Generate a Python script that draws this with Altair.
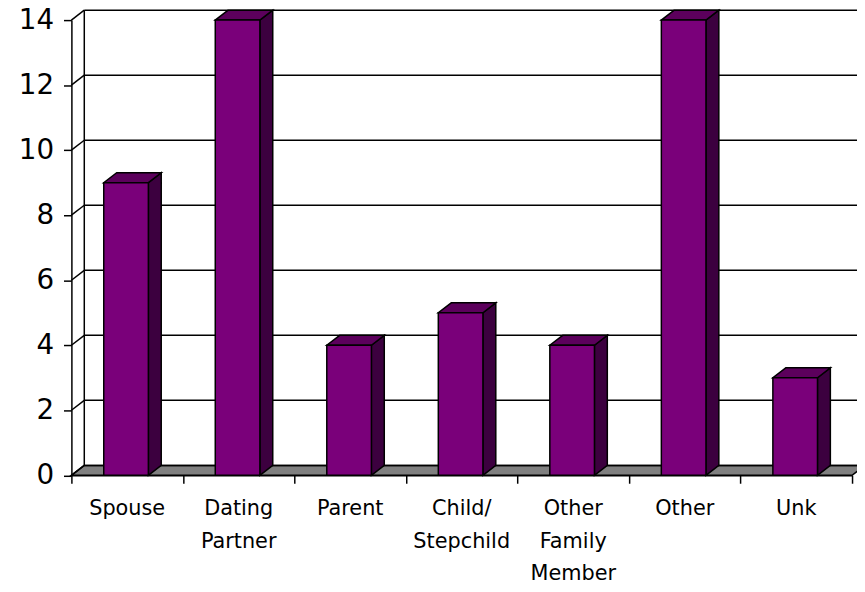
import altair as alt
import pandas as pd

categories = ["Spouse", "Dating\nPartner", "Parent", "Child/\nStepchild",
              "Other\nFamily\nMember", "Other", "Unk"]
counts = [9, 14, 4, 5, 4, 14, 3]
y_ticks = [0, 2, 4, 6, 8, 10, 12, 14]

N = len(categories)
DX = 0.1155   # depth offset (category units)
DY = 0.305    # depth offset (count units)
B0, B1 = 0.29, 0.69   # bar front face within band

xs = alt.Scale(domain=[0, N], nice=False, zero=False)
ys = alt.Scale(domain=[0, 14], nice=False, zero=False)
ax_y = alt.Axis(values=y_ticks, title=None, grid=False, tickSize=8,
                labelFontSize=28, labelFont="DejaVu Sans", labelColor="black", labelPadding=10,
                domainColor="black", tickColor="black", domainWidth=1.5, tickWidth=1.5)
ax_x = alt.Axis(values=list(range(N + 1)), labels=False, title=None,
                grid=False, tickSize=8, domainColor="black", tickColor="black",
                domainWidth=1.5, tickWidth=1.5)


def X(f):
    return alt.X(f, scale=xs, axis=ax_x)


def Y(f):
    return alt.Y(f, scale=ys, axis=ax_y)


idx = list(range(N))

# floor parallelogram
floor_df = pd.DataFrame({"y": [0, DY], "x": [0, DX], "x2": [N, N + DX]})
floor = alt.Chart(floor_df).mark_area(
    orient="horizontal", color="#808080", stroke="black", strokeWidth=1.5
).encode(y=Y("y:Q"), x=X("x:Q"), x2="x2:Q")

grid_df = pd.DataFrame({"v": y_ticks})
diag = alt.Chart(grid_df).transform_calculate(
    x0="0", x1=str(DX), y1=f"datum.v + {DY}"
).mark_rule(color="black", strokeWidth=1.5).encode(
    x=X("x0:Q"), x2="x1:Q", y=Y("v:Q"), y2="y1:Q",
)
back_grid = alt.Chart(grid_df).transform_calculate(
    x0=str(DX), x1=str(N + DX), y1=f"datum.v + {DY}"
).mark_rule(color="black", strokeWidth=1.5).encode(
    x=X("x0:Q"), x2="x1:Q", y=Y("y1:Q"),
)
wall_df = pd.DataFrame({"x": [DX], "y": [DY], "y2": [14 + DY]})
wall = alt.Chart(wall_df).mark_rule(color="black", strokeWidth=1.5).encode(
    x=X("x:Q"), y=Y("y:Q"), y2="y2:Q",
)

# bar faces
front_df = pd.DataFrame({"cat": categories, "x": [i + B0 for i in idx],
                         "x2": [i + B1 for i in idx], "v": counts, "z": [0] * N})
front = alt.Chart(front_df).mark_rect(color="#7a007a", stroke="black", strokeWidth=1.5).encode(
    x=X("x:Q"), x2="x2:Q", y=Y("v:Q"), y2="z:Q",
)

side_rows = []
top_rows = []
for i, (c, v) in enumerate(zip(categories, counts)):
    side_rows.append({"cat": c, "x": i + B1, "y": 0, "y2": v})
    side_rows.append({"cat": c, "x": i + B1 + DX, "y": DY, "y2": v + DY})
    top_rows.append({"cat": c, "y": v, "x": i + B0, "x2": i + B1})
    top_rows.append({"cat": c, "y": v + DY, "x": i + B0 + DX, "x2": i + B1 + DX})
side = alt.Chart(pd.DataFrame(side_rows)).mark_area(
    orient="vertical", color="#3c003f", stroke="black", strokeWidth=1.5
).encode(x=X("x:Q"), y=Y("y:Q"), y2="y2:Q", detail="cat:N")
top = alt.Chart(pd.DataFrame(top_rows)).mark_area(
    orient="horizontal", color="#5c005c", stroke="black", strokeWidth=1.5
).encode(y=Y("y:Q"), x=X("x:Q"), x2="x2:Q", detail="cat:N")

label_df = pd.DataFrame({"cat": categories, "xc": [i + 0.5 for i in idx], "z": [0] * N})
labels = alt.Chart(label_df).mark_text(
    lineBreak="\n", lineHeight=33, fontSize=21, font="DejaVu Sans", color="black",
    baseline="top", align="center", dy=23
).encode(x=X("xc:Q"), y=Y("z:Q"), text="cat:N")

chart = alt.layer(floor, back_grid, wall, diag, side, top, front, labels).properties(
    width=788, height=459.5,
    padding={"left": 64, "top": 9.5, "right": 5, "bottom": 107},
    autosize=alt.AutoSizeParams(type="none"),
).configure_view(stroke=None)

chart.save("out.html", embed_options={"renderer": "svg", "actions": False})
